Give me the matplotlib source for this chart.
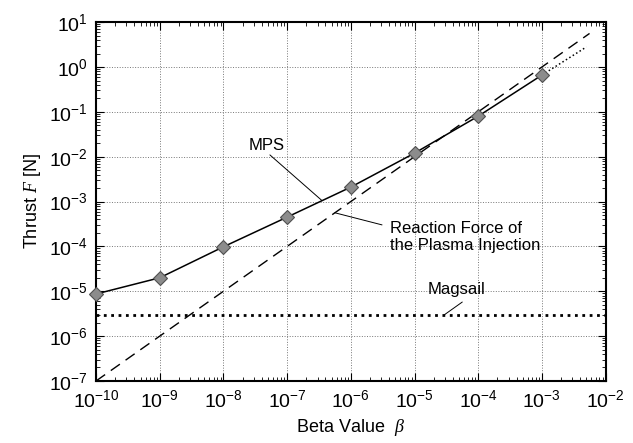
import numpy as np
import matplotlib
matplotlib.use("Agg")
import matplotlib.pyplot as plt

plt.rcParams['font.family'] = ['Liberation Sans', 'DejaVu Sans']
plt.rcParams['mathtext.fontset'] = 'custom'
plt.rcParams['mathtext.rm'] = 'Liberation Sans'
plt.rcParams['mathtext.it'] = 'Liberation Serif:italic'
plt.rcParams['mathtext.default'] = 'regular'

# MPS thrust
beta_mps = [1e-10, 1e-9, 1e-8, 1e-7, 1e-6, 1e-5, 1e-4, 1e-3]
thrust_mps = [8.7e-6, 2.0e-5, 9.8e-5, 4.5e-4, 2.1e-3, 1.2e-2, 8.0e-2, 0.66]

# dotted extension of the MPS curve
beta_ext = [1e-3, 5e-3]
thrust_ext = [0.66, 2.8]

# reaction force of the plasma injection (straight line in log-log)
beta_rf = [1e-10, 5.6e-3]
thrust_rf = [1e-7, 5.6]

# Magsail constant thrust
beta_mag = [1e-10, 1e-2]
thrust_mag = [3e-6, 3e-6]

fig = plt.figure(figsize=(6.33, 4.43), dpi=100)
ax = fig.add_axes([0.1517, 0.140, 0.805, 0.810])

ax.plot(beta_mps, thrust_mps, '-', color='black', lw=1.1,
        marker='D', markersize=7, markerfacecolor='#8c8c8c',
        markeredgecolor='#505050', markeredgewidth=0.8, zorder=4, clip_on=False)
ax.plot(beta_ext, thrust_ext, ':', color='black', lw=1.1)
ax.plot(beta_rf, thrust_rf, color='black', lw=1.0, dashes=(8, 5))
ax.plot(beta_mag, thrust_mag, ':', color='black', lw=2.0)

ax.set_xscale('log')
ax.set_yscale('log')
ax.set_xlim(1e-10, 1e-2)
ax.set_ylim(1e-7, 1e1)
ax.xaxis.set_major_locator(matplotlib.ticker.LogLocator(base=10, numticks=20))
ax.yaxis.set_major_locator(matplotlib.ticker.LogLocator(base=10, numticks=20))
ax.xaxis.set_minor_locator(matplotlib.ticker.LogLocator(base=10, subs=np.arange(2, 10), numticks=20))
ax.yaxis.set_minor_locator(matplotlib.ticker.LogLocator(base=10, subs=np.arange(2, 10), numticks=20))
ax.xaxis.set_minor_formatter(matplotlib.ticker.NullFormatter())
ax.yaxis.set_minor_formatter(matplotlib.ticker.NullFormatter())

ax.grid(True, which='major', linestyle=':', color='#777777', lw=0.7)
ax.tick_params(which='both', direction='in', top=True, right=True)
ax.tick_params(which='major', length=6, labelsize=14, pad=6)
ax.tick_params(which='minor', length=3)
for s in ax.spines.values():
    s.set_linewidth(1.5)

ax.set_xlabel(r'Beta Value  $\mathit{\beta}$', fontsize=13)
ax.set_ylabel(r'Thrust $\mathit{F}$ [N]', fontsize=13)

# annotations: text plus a thin leader line
line = dict(arrowstyle='-', color='black', lw=0.7, shrinkA=0, shrinkB=0)

ax.text(10**-7.32, 10**-1.76, 'MPS', fontsize=12, ha='center', va='center')
ax.annotate('', xy=(10**-6.455, 10**-2.975), xytext=(10**-7.27, 10**-1.96), arrowprops=line)

ax.text(10**-5.39, 10**-3.79, 'Reaction Force of\nthe Plasma Injection',
        fontsize=12, ha='left', va='center', linespacing=1.1)
ax.annotate('', xy=(10**-6.25, 10**-3.25), xytext=(10**-5.51, 10**-3.52), arrowprops=line)

ax.text(10**-4.34, 10**-4.97, 'Magsail', fontsize=12, ha='center', va='center')
ax.annotate('', xy=(10**-4.53, 3e-6), xytext=(10**-4.25, 10**-5.24), arrowprops=line)

fig.savefig('out.png', dpi=100)
